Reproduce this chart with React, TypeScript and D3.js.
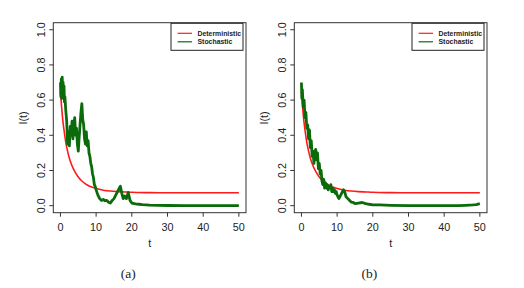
import React from "react";
import * as d3 from "d3";

const xTicks = [0, 10, 20, 30, 40, 50];
const yTicks = [0.0, 0.2, 0.4, 0.6, 0.8, 1.0];
const yTickLabels = ["0.0", "0.2", "0.4", "0.6", "0.8", "1.0"];
const legendLabels = ["Deterministic", "Stochastic"];
const panelLabels = ["(a)", "(b)"];

const detT = [0, 0.25, 0.5, 0.75, 1, 1.5, 2, 2.5, 3, 3.5, 4, 5, 6, 7, 8, 9, 10, 12, 14, 16, 18, 20, 25, 30, 35, 40, 45, 50];
const detV = [0.65, 0.58, 0.52, 0.47, 0.43, 0.36, 0.31, 0.27, 0.24, 0.215, 0.195, 0.163, 0.14, 0.124, 0.112, 0.104, 0.097, 0.088, 0.083, 0.08, 0.078, 0.076, 0.074, 0.073, 0.073, 0.073, 0.073, 0.073];

const stochAT = [0, 0.12, 0.25, 0.37, 0.5, 0.62, 0.75, 0.87, 1, 1.12, 1.25, 1.5, 1.75, 2, 2.25, 2.5, 2.75, 3, 3.25, 3.5, 3.75, 4, 4.25, 4.5, 4.75, 5, 5.25, 5.5, 5.75, 6, 6.25, 6.5, 6.75, 7, 7.25, 7.5, 7.75, 8, 8.25, 8.5, 8.75, 9, 9.25, 9.5, 9.75, 10, 10.5, 11, 11.5, 12, 12.5, 13, 13.5, 14, 14.5, 15, 15.5, 16, 16.5, 16.8, 17.2, 17.6, 18, 18.5, 19, 19.5, 20, 21, 22, 23, 25, 30, 35, 40, 45, 50];
const stochAV = [0.70, 0.62, 0.72, 0.61, 0.73, 0.63, 0.70, 0.62, 0.68, 0.59, 0.62, 0.54, 0.48, 0.35, 0.42, 0.34, 0.45, 0.40, 0.48, 0.38, 0.46, 0.50, 0.40, 0.44, 0.35, 0.31, 0.39, 0.46, 0.53, 0.58, 0.49, 0.46, 0.38, 0.35, 0.42, 0.34, 0.37, 0.30, 0.28, 0.24, 0.22, 0.18, 0.16, 0.12, 0.11, 0.09, 0.06, 0.04, 0.03, 0.035, 0.028, 0.03, 0.02, 0.015, 0.03, 0.04, 0.06, 0.08, 0.10, 0.11, 0.07, 0.04, 0.055, 0.04, 0.075, 0.03, 0.015, 0.01, 0.008, 0.006, 0.003, 0.001, 0.0, 0.0, 0.0, 0.0];

const stochBT = [0, 0.12, 0.25, 0.5, 0.75, 1, 1.25, 1.5, 1.75, 2, 2.25, 2.5, 2.75, 3, 3.25, 3.5, 3.75, 4, 4.25, 4.5, 4.75, 5, 5.25, 5.5, 5.75, 6, 6.25, 6.5, 6.75, 7, 7.25, 7.5, 7.75, 8, 8.25, 8.5, 8.75, 9, 9.25, 9.5, 9.75, 10, 10.25, 10.5, 10.75, 11, 11.25, 11.5, 11.75, 12, 12.25, 12.5, 13, 13.5, 14, 14.5, 15, 16, 17, 18, 19, 20, 22, 25, 30, 35, 40, 44, 46, 48, 49, 50];
const stochBV = [0.70, 0.61, 0.66, 0.56, 0.60, 0.50, 0.53, 0.44, 0.46, 0.38, 0.43, 0.33, 0.37, 0.28, 0.31, 0.24, 0.30, 0.32, 0.26, 0.30, 0.21, 0.24, 0.18, 0.20, 0.14, 0.12, 0.15, 0.10, 0.13, 0.10, 0.12, 0.09, 0.11, 0.10, 0.12, 0.08, 0.10, 0.08, 0.09, 0.07, 0.08, 0.06, 0.05, 0.04, 0.05, 0.06, 0.07, 0.08, 0.09, 0.085, 0.07, 0.05, 0.04, 0.03, 0.02, 0.018, 0.012, 0.015, 0.018, 0.012, 0.008, 0.005, 0.004, 0.002, 0.0, 0.0, 0.0, 0.0, 0.002, 0.004, 0.006, 0.012];

const sans = "Liberation Sans, Arial, sans-serif";

function Panel({ left, stochT, stochV, label }: { left: number; stochT: number[]; stochV: number[]; label: string }) {
  const boxW = 192.7;
  const top = 22.7;
  const bottom = 212.7;
  const right = left + boxW;
  const x = d3.scaleLinear().domain([-2, 52]).range([left, right]);
  const y = d3.scaleLinear().domain([-0.04, 1.04]).range([bottom, top]);
  const line = d3.line<[number, number]>().x((d) => x(d[0])).y((d) => y(d[1]));
  const smooth = d3.line<[number, number]>().x((d) => x(d[0])).y((d) => y(d[1])).curve(d3.curveMonotoneX);
  const det: [number, number][] = detT.map((t, i) => [t, detV[i]]);
  const sto: [number, number][] = stochT.map((t, i) => [t, stochV[i]]);
  const legX = right - 75;
  const legY = top + 0.6;
  return (
    <g>
      <defs>
        <clipPath id={"clip" + label}>
          <rect x={left} y={top} width={boxW} height={bottom - top} />
        </clipPath>
      </defs>
      <g clipPath={`url(#clip${label})`}>
        <path d={smooth(det) || ""} fill="none" stroke="#ff1a1a" strokeWidth={1.6} />
        <path d={line(sto) || ""} fill="none" stroke="#0b6b0b" strokeWidth={2.8} strokeLinejoin="round" />
      </g>
      <rect x={left} y={top} width={boxW} height={bottom - top} fill="none" stroke="#333" strokeWidth={1} />
      {xTicks.map((t) => (
        <g key={"x" + t}>
          <line x1={x(t)} x2={x(t)} y1={bottom} y2={bottom + 4} stroke="#333" strokeWidth={1} />
          <text x={x(t)} y={230.5} fontSize={10.8} fontFamily={sans} textAnchor="middle" fill="#222">
            {t}
          </text>
        </g>
      ))}
      {yTicks.map((v, i) => (
        <g key={"y" + v}>
          <line x1={left - 4} x2={left} y1={y(v)} y2={y(v)} stroke="#333" strokeWidth={1} />
          <text
            x={left - 8.5}
            y={y(v)}
            fontSize={10.8}
            fontFamily={sans}
            textAnchor="middle"
            fill="#222"
            transform={`rotate(-90 ${left - 8.5} ${y(v)})`}
          >
            {yTickLabels[i]}
          </text>
        </g>
      ))}
      <text x={x(25)} y={247} fontSize={10.8} fontFamily={sans} textAnchor="middle" fill="#222">
        t
      </text>
      <text
        x={left - 26.5}
        y={118}
        fontSize={10.8}
        fontFamily={sans}
        textAnchor="middle"
        fill="#222"
        transform={`rotate(-90 ${left - 26.5} 118)`}
      >
        I(t)
      </text>
      <rect x={legX} y={legY} width={72} height={27} fill="white" stroke="#222" strokeWidth={1} />
      <line x1={legX + 6.6} x2={legX + 21} y1={legY + 10} y2={legY + 10} stroke="#ff1a1a" strokeWidth={1.2} />
      <line x1={legX + 6.6} x2={legX + 21} y1={legY + 18.5} y2={legY + 18.5} stroke="#0b6b0b" strokeWidth={1.2} />
      <text x={legX + 26.5} y={legY + 12.4} fontSize={6.9} fontWeight="bold" fontFamily={sans} fill="#222">
        {legendLabels[0]}
      </text>
      <text x={legX + 26.5} y={legY + 20.9} fontSize={6.9} fontWeight="bold" fontFamily={sans} fill="#222">
        {legendLabels[1]}
      </text>
      <text x={left + 75} y={278} fontSize={13.5} fontFamily="Liberation Serif, Times New Roman, serif" textAnchor="middle" fill="#222">
        {label}
      </text>
    </g>
  );
}

export default function App() {
  return (
    <svg width={524} height={288} style={{ position: "absolute", left: 0, top: 0, background: "white" }}>
      <rect width={524} height={288} fill="white" />
      <Panel left={53.3} stochT={stochAT} stochV={stochAV} label={panelLabels[0]} />
      <Panel left={294.3} stochT={stochBT} stochV={stochBV} label={panelLabels[1]} />
    </svg>
  );
}
